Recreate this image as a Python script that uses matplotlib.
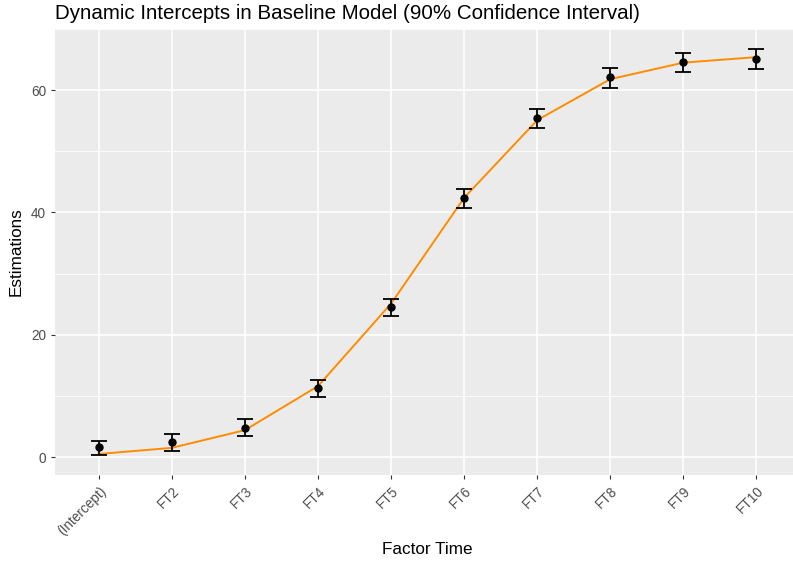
import matplotlib
matplotlib.use("Agg")
import matplotlib.pyplot as plt
import numpy as np

plt.rcParams["font.family"] = ["Liberation Sans", "DejaVu Sans"]

categories = ["(Intercept)", "FT2", "FT3", "FT4", "FT5", "FT6", "FT7", "FT8", "FT9", "FT10"]
estimates = [1.6, 2.5, 4.8, 11.3, 24.6, 42.4, 55.4, 62.1, 64.6, 65.1]
lower = [0.3, 1.0, 3.4, 9.8, 23.1, 40.8, 53.8, 60.4, 63.0, 63.5]
upper = [2.6, 3.8, 6.2, 12.6, 25.9, 43.8, 56.9, 63.6, 66.1, 66.7]
fitted = [0.5, 1.5, 4.4, 11.6, 25.1, 42.4, 55.1, 61.8, 64.5, 65.4]

fig = plt.figure(figsize=(7.93, 5.63), dpi=100)
ax = fig.add_axes([55 / 793, 88 / 563, 738 / 793, 446 / 563])

x = np.arange(len(categories))
est = np.array(estimates)
err = np.array([est - np.array(lower), np.array(upper) - est])

ax.set_facecolor("#EBEBEB")
ax.set_axisbelow(True)
for v in [10, 30, 50, 70]:
    ax.axhline(v, color="white", lw=0.6, zorder=0)
ax.grid(True, color="white", lw=1.2, zorder=0)

ax.plot(x, fitted, color="#FF8C00", lw=1.4, zorder=2)
ax.errorbar(x, est, yerr=err, fmt="o", color="black", ms=5, elinewidth=1.3,
            capsize=6, capthick=1.3, zorder=3)

ax.set_xlim(-0.6, 9.5)
ax.set_ylim(-2.94, 70.0)
ax.set_xticks(x)
ax.set_xticklabels(categories, rotation=45, ha="right", rotation_mode="anchor")
ax.set_yticks([0, 20, 40, 60])
ax.tick_params(axis="both", colors="#333333", labelcolor="#4D4D4D", labelsize=9.8,
               length=3, width=0.8)
for s in ax.spines.values():
    s.set_visible(False)

ax.set_xlabel("Factor Time", fontsize=12.3)
ax.xaxis.set_label_coords(0.505, -0.151)
ax.set_ylabel("Estimations", fontsize=12.3, labelpad=5)
ax.set_title("Dynamic Intercepts in Baseline Model (90% Confidence Interval)",
             loc="left", fontsize=14.8, pad=7)

fig.savefig("out.png", dpi=100)
